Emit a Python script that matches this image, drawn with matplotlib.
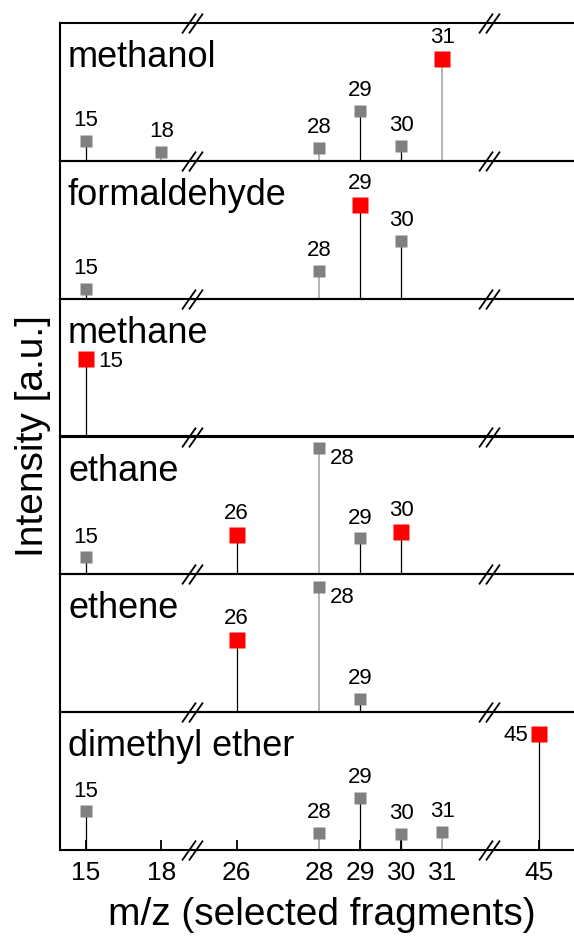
# -*- coding: utf-8 -*-
# Fragmentos m/z seleccionados por especie, paneles apilados con eje roto

import numpy as np
import matplotlib
matplotlib.use("Agg")
import matplotlib.pyplot as plt
from matplotlib.path import Path

plt.rcParams['font.family'] = ['Liberation Sans', 'DejaVu Sans']

# ------------------------------
# DATOS
# ------------------------------
species = ['methanol', 'formaldehyde', 'methane', 'ethane', 'ethene', 'dimethyl ether']

mz_methanol = [15, 18, 28, 29, 30, 31]
int_methanol = [0.146, 0.066, 0.095, 0.365, 0.109, 0.737]
main_methanol = [31]

mz_formaldehyde = [15, 28, 29, 30]
int_formaldehyde = [0.072, 0.203, 0.68, 0.42]
main_formaldehyde = [29]

mz_methane = [15]
int_methane = [0.565]
main_methane = [15]

mz_ethane = [15, 26, 28, 29, 30]
int_ethane = [0.123, 0.283, 0.913, 0.26, 0.304]
main_ethane = [26, 30]

mz_ethene = [26, 28, 29]
int_ethene = [0.526, 0.905, 0.095]
main_ethene = [26]

mz_dme = [15, 28, 29, 30, 31, 45]
int_dme = [0.28, 0.122, 0.38, 0.115, 0.13, 0.84]
main_dme = [45]

tick_mz = [15, 18, 26, 28, 29, 30, 31, 45]

# etiquetas que no van encima del marcador
label_side = {
    ('methane', 15): 'right',
    ('ethane', 28): 'right',
    ('ethene', 28): 'right',
    ('dimethyl ether', 45): 'left',
}

panels = [
    (mz_methanol, int_methanol, main_methanol),
    (mz_formaldehyde, int_formaldehyde, main_formaldehyde),
    (mz_methane, int_methane, main_methane),
    (mz_ethane, int_ethane, main_ethane),
    (mz_ethene, int_ethene, main_ethene),
    (mz_dme, int_dme, main_dme),
]

# ------------------------------
# ESCALA ROTA (tramos lineales)
# ------------------------------
knot_mz = [10, 15, 18, 26, 31, 45, 50]
knot_u = [11, 86, 161, 236, 441, 537, 572]


def fwd(x):
    return np.interp(x, knot_mz, knot_u)


def inv(u):
    return np.interp(u, knot_u, knot_mz)


breaks_mz = [21.2, 37.8]
light_stem = {18, 28, 31}

# marcador "//"
brk = Path([(-10.5, -10), (3.5, 10), (-3.5, -10), (10.5, 10)],
           [Path.MOVETO, Path.LINETO, Path.MOVETO, Path.LINETO])

# ------------------------------
# FIGURA
# ------------------------------
fig, axes = plt.subplots(len(species), 1, figsize=(5.74, 9.36), dpi=100, sharex=True)
fig.subplots_adjust(left=60 / 574, right=1.0, top=1 - 23 / 936, bottom=1 - 850 / 936, hspace=0)

for i, (ax, name, (mz, vals, main)) in enumerate(zip(axes, species, panels)):
    ax.set_facecolor('none')
    ax.set_xscale('function', functions=(fwd, inv))
    ax.set_xlim(inv(60), inv(573))
    ax.set_ylim(0, 1)
    ax.spines['right'].set_visible(False)
    for s in ['top', 'bottom', 'left']:
        ax.spines[s].set_linewidth(1.5)
    ax.set_yticks([])

    for m, v in zip(mz, vals):
        stem_c = '#b4b4b4' if m in light_stem else 'black'
        stem_w = 1.4 if m in light_stem else 0.9
        ax.plot([m, m], [0, v], color=stem_c, lw=stem_w, zorder=2)
        if m in main:
            ax.plot(m, v, 's', color='#ff0000', ms=11, mec='none', zorder=3)
            gap = 6
        else:
            ax.plot(m, v, 's', color='#808080', ms=8.8, mec='none', zorder=3)
            gap = 5
        side = label_side.get((name, m), 'top')
        if side == 'top':
            ax.annotate(str(m), (m, v), xytext=(0, gap + 2), textcoords='offset points',
                        ha='center', va='bottom', fontsize=16)
        elif side == 'right':
            dy = -2 if name == 'methane' else -7
            ax.annotate(str(m), (m, v), xytext=(gap + 3, dy), textcoords='offset points',
                        ha='left', va='center', fontsize=16)
        else:
            ax.annotate(str(m), (m, v), xytext=(-gap - 2, -1), textcoords='offset points',
                        ha='right', va='center', fontsize=16)

    ax.text(8 / 514, 1 - 44 / 137.8, name, transform=ax.transAxes,
            fontsize=26, ha='left', va='baseline')

    # marcas de corte arriba y abajo
    for b in breaks_mz:
        for yy in ([0, 1] if i == 0 else [0]):
            ax.plot([b], [yy], transform=ax.get_xaxis_transform(), marker=brk,
                    ms=15, mfc='none', mec='black', mew=1.3, clip_on=False, zorder=5)

    if i < len(species) - 1:
        ax.tick_params(axis='x', which='both', bottom=False, labelbottom=False)

ax = axes[-1]
ax.set_xticks(tick_mz)
ax.set_xticklabels([str(t) for t in tick_mz])
ax.xaxis.set_minor_locator(matplotlib.ticker.NullLocator())
ax.tick_params(axis='x', direction='in', length=7, width=1.3, labelsize=19, pad=8)

fig.text(33 / 574, 1 - 436 / 936, 'Intensity [a.u.]', rotation=90,
         ha='center', va='center', fontsize=28)
fig.text(322 / 574, 1 - 915 / 936, 'm/z (selected fragments)',
         ha='center', va='center', fontsize=28)

plt.savefig('out.png', dpi=100)
